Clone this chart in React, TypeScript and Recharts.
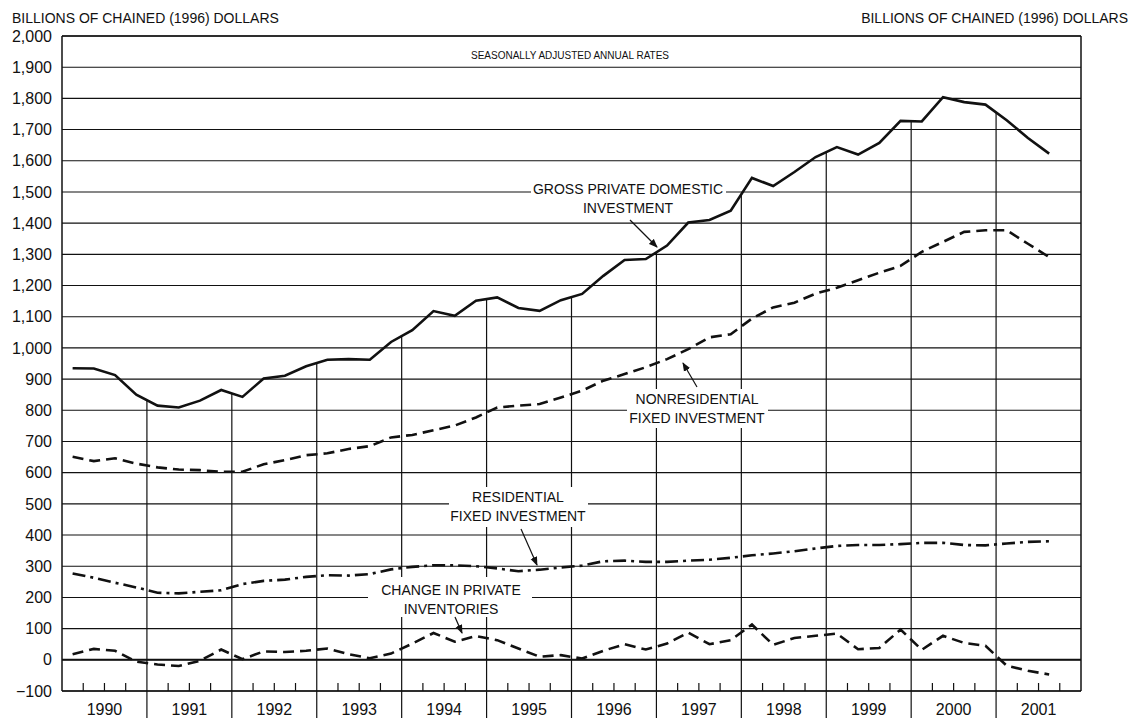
import React from "react";
import {
  CartesianGrid,
  Line,
  LineChart,
  ReferenceLine,
  XAxis,
  YAxis,
} from "recharts";

// quarterly, 1990 Q1 .. 2001 Q3, billions of chained (1996) dollars
const years = [
  "1990", "1991", "1992", "1993", "1994", "1995",
  "1996", "1997", "1998", "1999", "2000", "2001",
];

const grossInvestment = [
  935, 934, 913, 850, 815, 809, 831, 865, 843, 902, 911, 941, 962, 964, 962,
  1019, 1057, 1118, 1103, 1151, 1162, 1128, 1119, 1153, 1173, 1231, 1282, 1285,
  1328, 1402, 1410, 1440, 1545, 1519, 1564, 1612, 1644, 1620, 1657, 1728, 1726,
  1804, 1788, 1780, 1730, 1673, 1623,
];

const nonresidential = [
  651, 637, 646, 629, 617, 610, 608, 603, 603, 627, 640, 656, 662, 676, 685,
  713, 721, 736, 751, 777, 809, 815, 820, 841, 863, 895, 916, 938, 964, 996,
  1034, 1044, 1094, 1130, 1145, 1174, 1193, 1217, 1241, 1263, 1308, 1340, 1372,
  1377, 1377, 1334, 1291,
];

const residential = [
  277, 263, 247, 232, 215, 213, 218, 223, 243, 253, 257, 266, 271, 270, 275,
  290, 298, 303, 303, 300, 293, 284, 289, 296, 302, 316, 318, 314, 314, 318,
  321, 327, 335, 341, 348, 357, 365, 368, 368, 371, 375, 375, 368, 367, 373,
  378, 380,
];

const inventories = [
  18, 35, 29, -6, -15, -20, -3, 33, 2, 27, 25, 29, 36, 18, 5, 20, 52, 86, 58,
  76, 63, 36, 10, 15, 4, 29, 50, 33, 52, 87, 50, 63, 113, 48, 70, 77, 84, 34,
  38, 97, 32, 77, 54, 45, -19, -35, -47,
];

const yTicks = [
  -100, 0, 100, 200, 300, 400, 500, 600, 700, 800, 900, 1000, 1100, 1200, 1300,
  1400, 1500, 1600, 1700, 1800, 1900, 2000,
];

const QUARTERS = years.length * 4;
const quarterTicks = Array.from({ length: QUARTERS + 1 }, (_, i) => i);

// each quarter sits in the middle of its slot
const rows = grossInvestment.map((v, i) => ({
  q: i + 0.5,
  gross: v,
  nonres: nonresidential[i],
  resid: residential[i],
  inv: inventories[i],
}));

// year dividers run from the gross investment line down to the axis
const dividers = years.slice(1).map((_, k) => {
  const i = (k + 1) * 4;
  return { x: i, top: (grossInvestment[i - 1] + grossInvestment[i]) / 2 };
});

const FONT = "'Liberation Sans', Arial, sans-serif";

const fmt = (v: number) =>
  v < 0 ? `\u2212${Math.abs(v)}` : v.toLocaleString("en-US");

function QuarterTick(props: any) {
  const { x, y, payload } = props;
  const v = payload.value as number;
  if (v % 4 === 0) {
    if (v === 0 || v === QUARTERS) return <g />;
    return <line x1={x} x2={x} y1={y} y2={y + 27} stroke="#111" strokeWidth={1.2} />;
  }
  return (
    <g>
      <line x1={x} x2={x} y1={y} y2={y - 8} stroke="#111" strokeWidth={1.2} />
      {v % 4 === 2 && (
        <text x={x} y={y + 24} textAnchor="middle" fontFamily={FONT} fontSize={16} fill="#111">
          {years[(v - 2) / 4]}
        </text>
      )}
    </g>
  );
}

function Note({ lines, cx, y0, box }: { lines: string[]; cx: number; y0: number; box: number[] }) {
  return (
    <g>
      <rect x={box[0]} y={box[1]} width={box[2] - box[0]} height={box[3] - box[1]} fill="#fff" />
      {lines.map((t, i) => (
        <text key={t} x={cx} y={y0 + i * 19} textAnchor="middle" fontFamily={FONT} fontSize={14} fill="#111">
          {t}
        </text>
      ))}
    </g>
  );
}

export default function App() {
  return (
    <div style={{ position: "absolute", left: 0, top: 0, width: 1135, height: 722, background: "#fff" }}>
      <LineChart width={1135} height={722} data={rows} margin={{ top: 36, right: 0, bottom: 0, left: 0 }}>
        <CartesianGrid yAxisId="left" vertical={false} stroke="#111" strokeWidth={1.1} />
        <XAxis
          dataKey="q"
          type="number"
          domain={[0, QUARTERS]}
          ticks={quarterTicks}
          interval={0}
          height={31}
          tickSize={0}
          tickMargin={0}
          tickLine={false}
          axisLine={{ stroke: "#111", strokeWidth: 1.5 }}
          tick={<QuarterTick />}
        />
        <YAxis
          yAxisId="left"
          domain={[-100, 2000]}
          ticks={yTicks}
          interval={0}
          width={62}
          tickSize={0}
          tickMargin={10}
          tickLine={false}
          tickFormatter={fmt}
          axisLine={{ stroke: "#111", strokeWidth: 1.5 }}
          tick={{ fill: "#111", fontSize: 16, fontFamily: FONT }}
        />
        <YAxis
          yAxisId="right"
          orientation="right"
          domain={[-100, 2000]}
          ticks={yTicks}
          interval={0}
          width={54}
          tickSize={0}
          tickMargin={25}
          tickLine={false}
          tickFormatter={fmt}
          axisLine={{ stroke: "#111", strokeWidth: 1.5 }}
          tick={{ fill: "#111", fontSize: 16, fontFamily: FONT, textAnchor: "middle" }}
        />
        <ReferenceLine yAxisId="left" y={2000} stroke="#111" strokeWidth={1.5} />
        <ReferenceLine yAxisId="left" y={0} stroke="#111" strokeWidth={2} />
        {dividers.map((d) => (
          <ReferenceLine
            key={d.x}
            yAxisId="left"
            segment={[{ x: d.x, y: d.top }, { x: d.x, y: -100 }]}
            stroke="#111"
            strokeWidth={1.2}
          />
        ))}
        <Line yAxisId="left" dataKey="gross" stroke="#111" strokeWidth={2.6} dot={false} activeDot={false} isAnimationActive={false} />
        <Line yAxisId="left" dataKey="nonres" stroke="#111" strokeWidth={2.6} strokeDasharray="11 6" dot={false} activeDot={false} isAnimationActive={false} />
        <Line yAxisId="left" dataKey="resid" stroke="#111" strokeWidth={2.6} strokeDasharray="13 5 3 5" dot={false} activeDot={false} isAnimationActive={false} />
        <Line yAxisId="left" dataKey="inv" stroke="#111" strokeWidth={2.6} strokeDasharray="11 6" dot={false} activeDot={false} isAnimationActive={false} />
      </LineChart>

      <svg width={1135} height={722} style={{ position: "absolute", left: 0, top: 0, pointerEvents: "none" }}>
        <defs>
          <marker id="head" markerWidth={9} markerHeight={8} refX={8} refY={4} orient="auto" markerUnits="userSpaceOnUse">
            <path d="M0,0.5 L9,4 L0,7.5 z" fill="#111" />
          </marker>
        </defs>
        <text x={12} y={23} fontFamily={FONT} fontSize={14} fill="#111">BILLIONS OF CHAINED (1996) DOLLARS</text>
        <text x={1128} y={23} textAnchor="end" fontFamily={FONT} fontSize={14} fill="#111">BILLIONS OF CHAINED (1996) DOLLARS</text>
        <text x={570} y={59} textAnchor="middle" fontFamily={FONT} fontSize={10} fill="#111">SEASONALLY ADJUSTED ANNUAL RATES</text>

        <Note lines={["GROSS PRIVATE DOMESTIC", "INVESTMENT"]} cx={628} y0={194} box={[531, 181, 726, 198]} />
        <line x1={630} y1={220} x2={657} y2={247} stroke="#111" strokeWidth={1.2} markerEnd="url(#head)" />

        <Note lines={["NONRESIDENTIAL", "FIXED INVESTMENT"]} cx={697} y0={404} box={[627, 389, 768, 428]} />
        <line x1={697} y1={387} x2={683} y2={363} stroke="#111" strokeWidth={1.2} markerEnd="url(#head)" />

        <Note lines={["RESIDENTIAL", "FIXED INVESTMENT"]} cx={518} y0={502} box={[449, 487, 588, 527]} />
        <line x1={521} y1={529} x2={537} y2={565} stroke="#111" strokeWidth={1.2} markerEnd="url(#head)" />

        <Note lines={["CHANGE IN PRIVATE", "INVENTORIES"]} cx={451} y0={595} box={[368, 577, 532, 617]} />
        <line x1={455} y1={617} x2={462} y2={633} stroke="#111" strokeWidth={1.2} markerEnd="url(#head)" />
      </svg>
    </div>
  );
}
